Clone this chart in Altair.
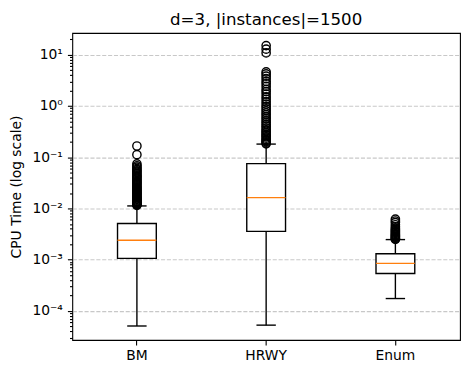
import altair as alt
import pandas as pd

# ---- data ----
categories = ["BM", "HRWY", "Enum"]
whisker_low = [5.1e-5, 5.3e-5, 1.75e-4]
q1 = [1.06e-3, 3.57e-3, 5.4e-4]
median = [2.4e-3, 1.63e-2, 8.5e-4]
q3 = [5.1e-3, 7.5e-2, 1.31e-3]
whisker_high = [1.12e-2, 1.8e-1, 2.47e-3]

fliers_bm = [0.0115, 0.0118, 0.012, 0.0123, 0.0126, 0.013, 0.0133, 0.0137, 0.014,
             0.0145, 0.015, 0.0155, 0.016, 0.0166, 0.0172, 0.018, 0.0187, 0.0195,
             0.0203, 0.0212, 0.022, 0.023, 0.024, 0.025, 0.0262, 0.0275, 0.029,
             0.0305, 0.032, 0.0335, 0.035, 0.037, 0.039, 0.041, 0.043, 0.045,
             0.048, 0.051, 0.054, 0.057, 0.06, 0.064, 0.068, 0.074, 0.112, 0.165]
fliers_hrwy = [0.182, 0.19, 0.2, 0.21, 0.22, 0.235, 0.25, 0.265, 0.28, 0.3, 0.32,
               0.34, 0.37, 0.4, 0.43, 0.47, 0.51, 0.56, 0.61, 0.67, 0.73, 0.8,
               0.88, 0.97, 1.08, 1.2, 1.35, 1.5, 1.7, 1.9, 2.1, 2.4, 2.7, 3.0,
               3.4, 3.8, 4.2, 4.6, 10.8, 12.8, 15.0]
fliers_enum = [2.5e-3, 2.55e-3, 2.6e-3, 2.7e-3, 2.8e-3, 2.9e-3, 3.0e-3, 3.1e-3,
               3.25e-3, 3.4e-3, 3.55e-3, 3.7e-3, 3.9e-3, 4.1e-3, 4.4e-3, 4.8e-3,
               5.3e-3, 5.7e-3, 6.2e-3]

y_decades = [1e-4, 1e-3, 1e-2, 1e-1, 1e0, 1e1]
y_decade_labels = ["10⁻⁴", "10⁻³", "10⁻²", "10⁻¹", "10⁰", "10¹"]
y_domain = [2.72e-5, 26.4]

title_text = "d=3, |instances|=1500"
y_title = "CPU Time (log scale)"

# ---- tables ----
boxes = pd.DataFrame({"category": categories, "lo": whisker_low, "q1": q1,
                      "med": median, "q3": q3, "hi": whisker_high})
fliers = pd.DataFrame({
    "category": ["BM"] * len(fliers_bm) + ["HRWY"] * len(fliers_hrwy) + ["Enum"] * len(fliers_enum),
    "value": fliers_bm + fliers_hrwy + fliers_enum,
})
title_df = pd.DataFrame({"t": [title_text]})

tick_values = []
for k in range(-5, 2):
    for m in range(1, 10):
        v = m * 10.0 ** k
        if y_domain[0] <= v <= y_domain[1]:
            tick_values.append(v)

major_test = "abs(log(datum.value)/LN10 - round(log(datum.value)/LN10)) < 1e-6"
label_expr = "''"
for v, lab in zip(y_decades, y_decade_labels):
    label_expr = f"abs(datum.value - {v!r}) < {v * 1e-6!r} ? '{lab}' : ({label_expr})"

FONT = "DejaVu Sans"
LW = 1.39
W, H = 389, 308

x_enc = alt.X("category:N", sort=categories,
              scale=alt.Scale(paddingInner=0, paddingOuter=0),
              axis=alt.Axis(title=None, labelAngle=0, labelFont=FONT, labelFontSize=13.9,
                            labelColor="black", tickColor="black", tickWidth=1.1,
                            tickSize=4.9, labelPadding=4, domain=False, grid=False,
                            labelBaseline="top"))
y_scale = alt.Scale(type="log", domain=y_domain, nice=False)
y_axis = alt.Axis(title=y_title, values=tick_values, labelExpr=label_expr,
                  labelOverlap=False, labelFlush=False, labelFont=FONT, labelFontSize=13.9,
                  labelColor="black", tickColor="black", tickWidth=1.1,
                  tickSize={"condition": {"test": major_test, "value": 4.9}, "value": 2.8},
                  labelPadding=5, domain=False, grid=True,
                  gridColor="#b0b0b0", gridWidth=1.1, gridDash=[4.1, 1.8],
                  gridOpacity={"condition": {"test": major_test, "value": 0.7}, "value": 0},
                  titleFont=FONT, titleFontSize=13.9, titleFontWeight="normal",
                  titleColor="black", titleX=-56, titleY=H / 2, titleAngle=-90,
                  titleAlign="center", titleBaseline="middle")

base = alt.Chart(boxes)

whisk_low = base.mark_rule(color="black", strokeWidth=LW).encode(
    x=x_enc, y=alt.Y("lo:Q", scale=y_scale, axis=y_axis), y2="q1:Q")
whisk_high = base.mark_rule(color="black", strokeWidth=LW).encode(
    x=x_enc, y=alt.Y("q3:Q", scale=y_scale), y2="hi:Q")
box = base.mark_bar(width=alt.RelativeBandSize(0.3), fill="white", stroke="black",
                    strokeWidth=LW).encode(
    x=x_enc, y=alt.Y("q1:Q", scale=y_scale), y2="q3:Q")
med = base.mark_tick(color="#ff7f0e", thickness=LW, size=38.9, opacity=1).encode(
    x=x_enc, y=alt.Y("med:Q", scale=y_scale))
cap_low = base.mark_tick(color="black", thickness=LW, size=19.45, opacity=1).encode(
    x=x_enc, y=alt.Y("lo:Q", scale=y_scale))
cap_high = base.mark_tick(color="black", thickness=LW, size=19.45, opacity=1).encode(
    x=x_enc, y=alt.Y("hi:Q", scale=y_scale))
pts = alt.Chart(fliers).mark_point(shape="circle", filled=False, color="black",
                                   size=69, strokeWidth=LW, opacity=1).encode(
    x=x_enc, y=alt.Y("value:Q", scale=y_scale))
title_mark = alt.Chart(title_df).mark_text(
    font=FONT, fontSize=16.7, color="black", align="center", baseline="alphabetic"
).encode(text="t:N", x=alt.value(W / 2), y=alt.value(-8.3))

chart = alt.layer(whisk_low, whisk_high, box, med, cap_low, cap_high, pts, title_mark).properties(
    width=W, height=H,
    background="white",
    autosize=alt.AutoSizeParams(type="none"),
    padding={"left": 64.5, "top": 24.5, "right": 2, "bottom": 26},
).configure_view(stroke="black", strokeWidth=1.1)

chart.save("out.html", embed_options={"renderer": "svg", "actions": False})
